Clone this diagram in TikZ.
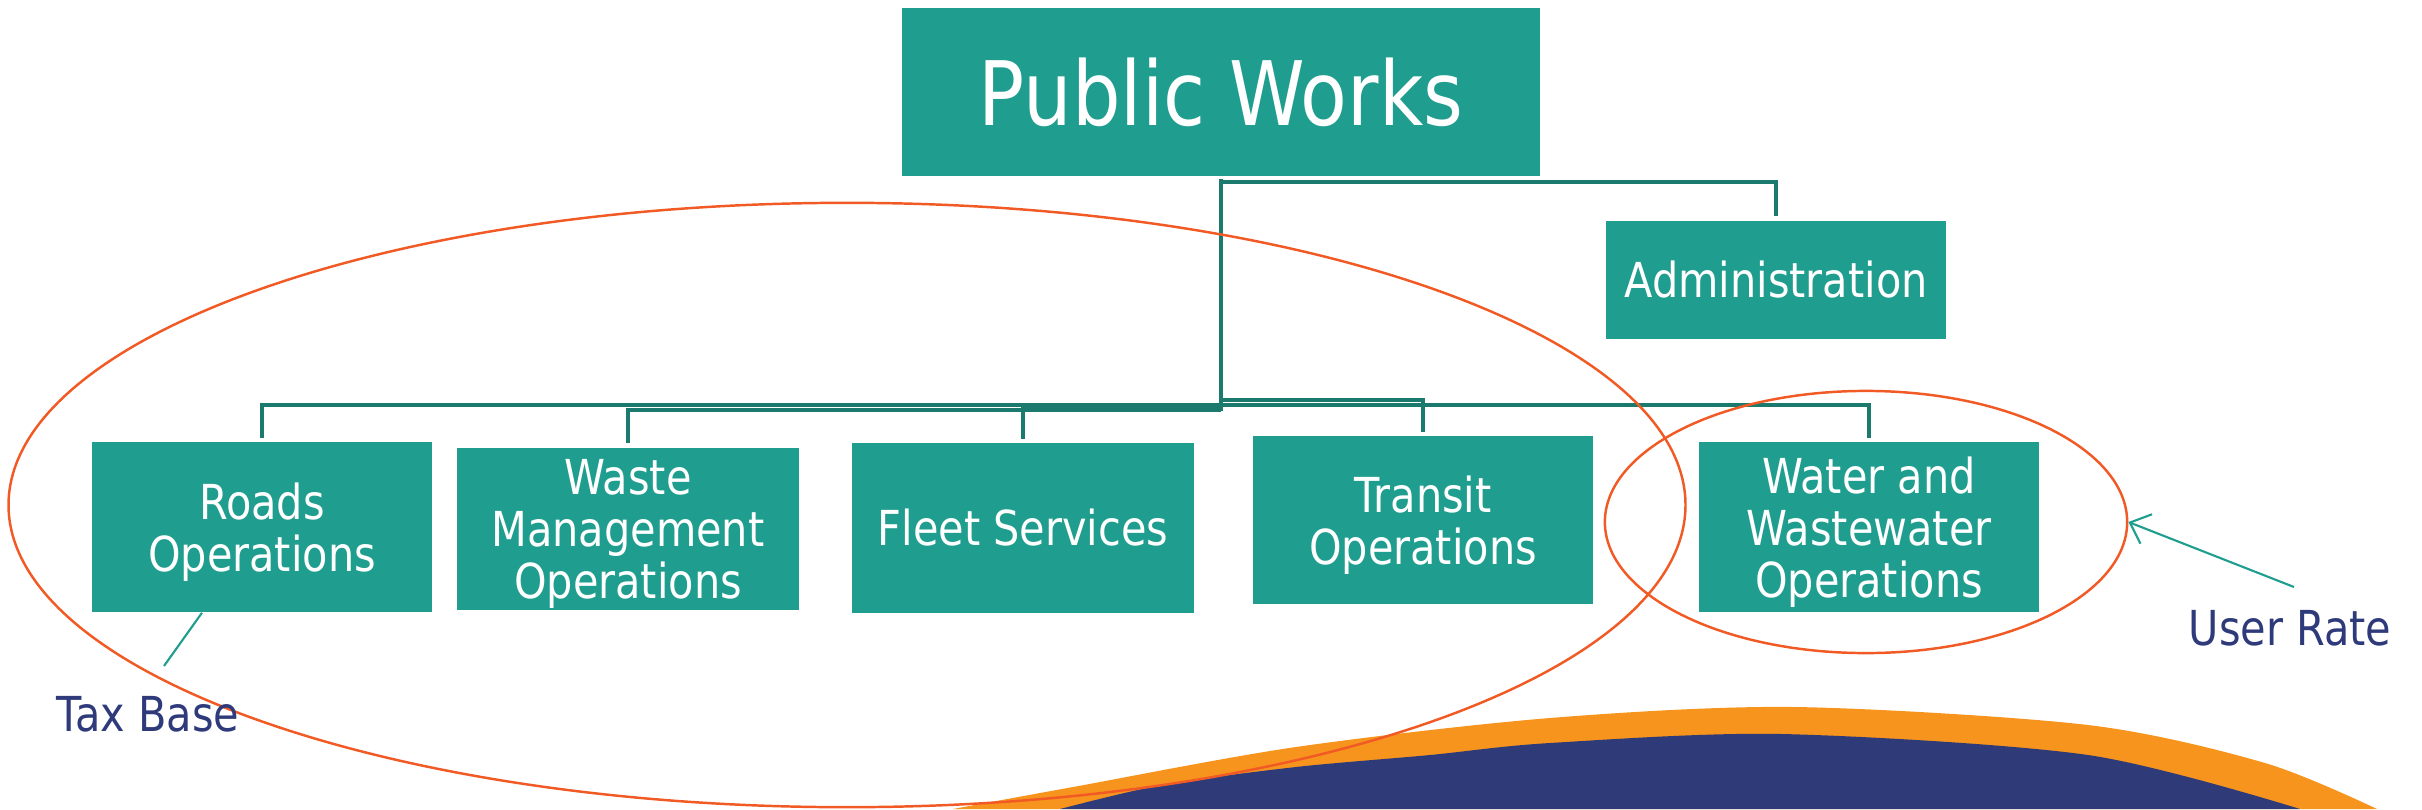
\documentclass[tikz,border=0pt]{standalone}
\usepackage{fontspec}
\setmainfont{DejaVu Sans}[FakeStretch=0.86]
\usetikzlibrary{shapes.geometric,arrows.meta}
\definecolor{boxteal}{HTML}{1F9E8F}
\definecolor{lineteal}{HTML}{1B7A6E}
\definecolor{ringred}{HTML}{F15A24}
\definecolor{bandorange}{HTML}{F7941D}
\definecolor{bandnavy}{HTML}{2E3B78}
\definecolor{labelnavy}{HTML}{2E3A7A}
\newcommand{\unitfont}{\fontsize{13.7pt}{14.8pt}\selectfont}
\newcommand{\topfont}{\fontsize{25.3pt}{27pt}\selectfont}

\begin{document}
\begin{tikzpicture}[x=0.01cm,y=-0.01cm]
    \tikzstyle{unit}=[fill=boxteal, text=white, align=center, inner sep=0pt, font=\unitfont]
    \tikzstyle{stack}=[unit, text depth=0pt]
    \tikzstyle{conn}=[draw=lineteal, line width=0.9pt]
    \tikzstyle{ring}=[draw=ringred, line width=0.7pt, ellipse, inner sep=0pt]
    \tikzstyle{callout}=[draw=boxteal, line width=0.6pt]
    \tikzstyle{tag}=[text=labelnavy, font=\unitfont, inner sep=0pt]
    \useasboundingbox (0,0) rectangle (2422,809);

    \fill[bandorange] plot[smooth] coordinates {(953,809) (1073,787) (1296,747) (1550,718) (1794,707) (2088,725) (2265,763) (2377,809)} -- cycle;
    \fill[bandnavy] plot[smooth] coordinates {(1060,809) (1162,785) (1296,767) (1430,755) (1550,743) (1782,734) (2088,755) (2300,809)} -- cycle;

    \node[unit, minimum width=6.38cm, minimum height=1.68cm, font=\topfont] (pw) at (1221,92) {Public Works};
    \node[unit, minimum width=3.40cm, minimum height=1.18cm] (admin) at (1776,280) {Administration};
    \node[stack, minimum width=3.39cm, minimum height=1.70cm] (roads) at (262,527) {Roads\\Operations};
    \node[stack, minimum width=3.42cm, minimum height=1.62cm] (waste) at (628,529) {Waste\\Management\\Operations};
    \node[unit, minimum width=3.41cm, minimum height=1.70cm] (fleet) at (1023,528) {Fleet Services};
    \node[stack, minimum width=3.40cm, minimum height=1.67cm] (transit) at (1423,520) {Transit\\Operations};
    \node[stack, minimum width=3.40cm, minimum height=1.69cm] (water) at (1869,527) {Water and\\Wastewater\\Operations};

    \coordinate (hub) at (1221,411);
    \draw[conn] ([yshift=-0.02cm]pw.south) -- (hub);
    \draw[conn] (pw.south |- 0,182) -| ([yshift=0.04cm]admin.north);
    \draw[conn] (pw.south |- 0,405) -| ([yshift=0.03cm]roads.north);
    \draw[conn] (pw.south |- 0,410) -| ([yshift=0.04cm]waste.north);
    \draw[conn] (pw.south |- 0,407) -| ([yshift=0.03cm]fleet.north);
    \draw[conn] (pw.south |- 0,400) -| ([yshift=0.04cm]transit.north);
    \draw[conn] (pw.south |- 0,405) -| ([yshift=0.04cm]water.north);

    \node[ring, minimum width=16.76cm, minimum height=6.04cm] (taxring) at (847,505) {};
    \node[ring, minimum width=5.22cm, minimum height=2.62cm] (waterring) at (1866,522) {};

    \node[tag, anchor=base west] (taxbase) at (56,731) {Tax Base};
    \node[tag, anchor=base west] (userrate) at (2188,645) {User Rate};
    \coordinate (taxtip) at (164,666);
    \coordinate (ratetail) at (2294,587);
    \draw[callout] ([xshift=-0.6cm]roads.south) -- (taxtip);
    \draw[callout, -{Straight Barb[length=5pt,width=9pt]}] (ratetail) -- (waterring.east);
\end{tikzpicture}
\end{document}
